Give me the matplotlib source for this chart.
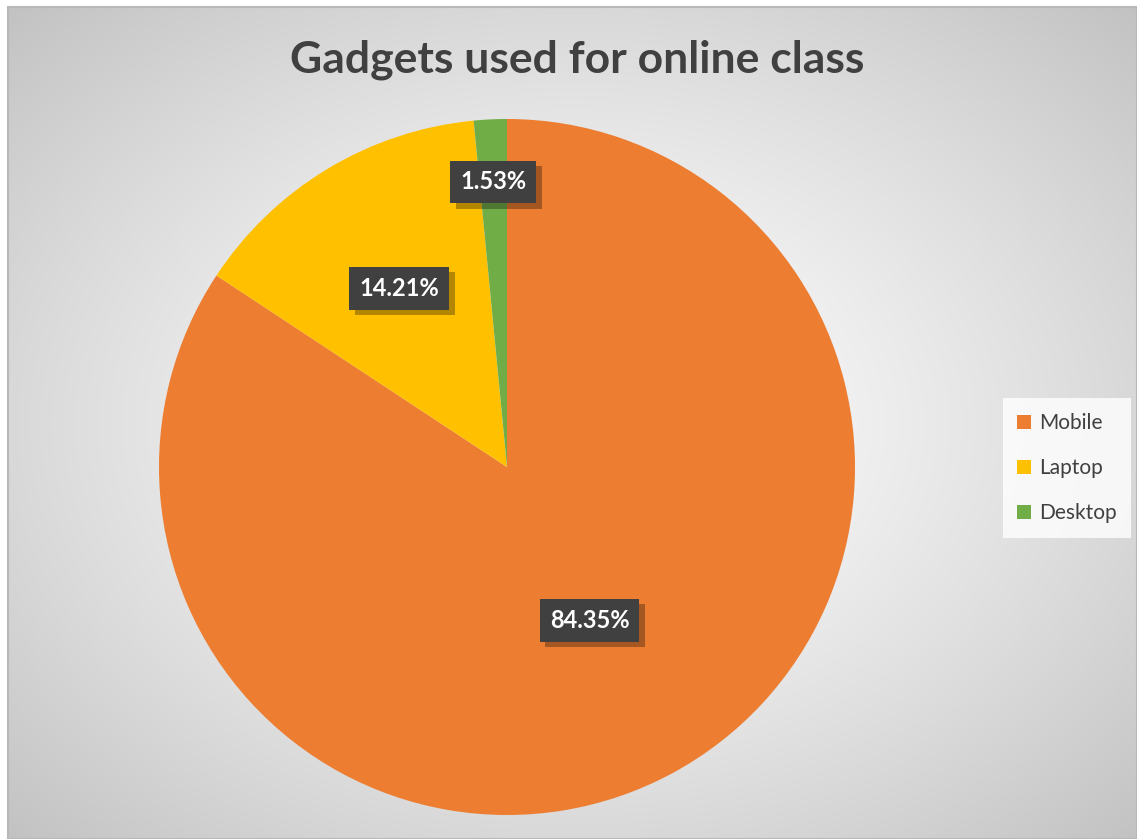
import numpy as np
import matplotlib
matplotlib.use("Agg")
import matplotlib.pyplot as plt
from matplotlib.patches import Patch, Rectangle
import matplotlib.patheffects as pe

# Data
devices = ["Mobile", "Laptop", "Desktop"]
shares = [84.35, 14.21, 1.53]
colors = ["#ED7D31", "#FFC000", "#70AD47"]
title = "Gadgets used for online class"

# radial placement of each data label (fraction of the pie radius)
label_radius = [0.5, 0.6, 0.82]

plt.rcParams['font.family'] = ['Lato', 'DejaVu Sans']

W, H = 1137, 839
fig = plt.figure(figsize=(W / 100, H / 100), dpi=100)

# Chart area background: soft radial gradient with a thin frame
bg = fig.add_axes([0, 0, 1, 1])
bg.axis('off')
x0, y0 = 8, 7
yy, xx = np.mgrid[0:H, 0:W]
cx, cy = (x0 + W) / 2, (y0 + H) / 2
hw, hh = (W - x0) / 2, (H - y0) / 2
r = np.sqrt(((xx - cx) / hw) ** 2 + ((yy - cy) / hh) ** 2) / np.sqrt(2)
v = 1 - (1 - 194 / 255) * np.clip(r, 0, 1) ** 1.3
img = np.dstack([v, v, v])
img[:y0, :] = 1
img[:, :x0] = 1
bg.imshow(img, extent=[0, W, H, 0], interpolation='bilinear', aspect='auto')
bg.set_xlim(0, W)
bg.set_ylim(H, 0)
bg.add_patch(Rectangle((x0, y0), W - x0, H - y0, fill=False,
                       edgecolor='#b8b8b8', lw=1.5))

# Pie
ax = fig.add_axes([159 / W, 1 - 815 / H, 696 / W, 696 / H])
wedges, _ = ax.pie(shares, colors=colors, startangle=90, counterclock=False,
                   radius=1, wedgeprops=dict(linewidth=0))
ax.set_xlim(-1, 1)
ax.set_ylim(-1, 1)
ax.set_aspect('equal')

# Data labels: dark boxes with white bold text and a drop shadow
for w, val, rad in zip(wedges, shares, label_radius):
    ang = np.deg2rad((w.theta1 + w.theta2) / 2)
    t = ax.text(rad * np.cos(ang), rad * np.sin(ang), f"{val:.2f}%",
                ha='center', va='center', color='white', fontsize=17,
                fontweight='bold', zorder=5,
                bbox=dict(boxstyle='square,pad=0.42', facecolor='#404040',
                          edgecolor='none'))
    t.get_bbox_patch().set_path_effects([
        pe.SimplePatchShadow(offset=(4, -4), shadow_rgbFace='black',
                             alpha=0.3),
        pe.Normal()])

# Title
fig.text(577 / W, 1 - 60 / H, title, ha='center', va='center', fontsize=32,
         fontweight='bold', color='#404040')

# Legend
handles = [Patch(facecolor=c, edgecolor='none') for c in colors]
leg = fig.legend(handles, devices, loc='center',
                 bbox_to_anchor=(1067 / W, 1 - 468 / H), frameon=True,
                 fancybox=False, fontsize=15, handlelength=0.65,
                 handleheight=0.65, handletextpad=0.4, labelspacing=1.2,
                 borderpad=0.7)
frame = leg.get_frame()
frame.set_facecolor((1, 1, 1, 0.35))
frame.set_edgecolor('none')
for t in leg.get_texts():
    t.set_color('#404040')

fig.savefig("out.png", dpi=100)
